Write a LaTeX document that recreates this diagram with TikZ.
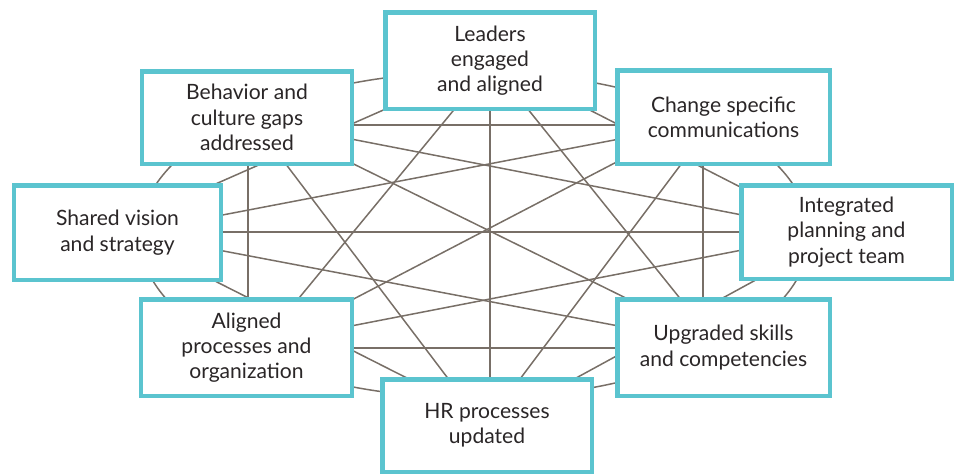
\documentclass[tikz,border=0pt]{standalone}
\usepackage{fontspec}
\setmainfont{Lato}
\usetikzlibrary{calc}
\definecolor{boxteal}{HTML}{5BC4CF}
\definecolor{netgray}{HTML}{786F67}
\definecolor{txtgray}{HTML}{2A2627}
\begin{document}
\begin{tikzpicture}[x=0.2mm,y=-0.2mm,
  net/.style={draw=netgray, line width=0.3mm},
  box/.style={draw=boxteal, line width=0.9mm, fill=white, align=center,
    inner sep=0pt, text=txtgray, font=\fontsize{12}{14.4}\selectfont,
    execute at begin node={\rule{0pt}{13pt}}}]
\useasboundingbox (0,0) rectangle (959,475);
% hidden vertex points of the network
\coordinate (vS) at (118,232);
\coordinate (vB) at (248,125);
\coordinate (vL) at (490,62);
\coordinate (vC) at (703,125);
\coordinate (vI) at (840,232);
\coordinate (vU) at (703,348);
\coordinate (vH) at (490,420);
\coordinate (vA) at (248,348);
% ellipse
\draw[net] (474.5,235) ellipse [x radius=67mm, y radius=32.6mm];
% connectors
\draw[net] (vB) -- (vA);
\draw[net] (vC) -- (vU);
\draw[net] (vL) -- (vH);
\draw[net] (vB) -- (vC);
\draw[net] (vS) -- (vI);
\draw[net] (vA) -- (vU);
\draw[net] ($(vS)+(0,-5)$) -- ($(vL)+(0,1)$);
\draw[net] ($(vS)+(0,3)$) -- ($(vC)+(0,-2)$);
\draw[net] ($(vB)+(0,-6)$) -- ($(vI)+(0,2)$);
\draw[net] ($(vB)+(0,-13)$) -- ($(vU)+(0,-12)$);
\draw[net] ($(vB)+(0,-11)$) -- ($(vH)+(0,14)$);
\draw[net] ($(vL)+(0,4)$) -- ($(vA)+(0,12)$);
\draw[net] ($(vS)+(0,-1)$) -- ($(vU)+(0,-6)$);
\draw[net] (vS) -- (vH);
\draw[net] ($(vA)+(0,6)$) -- ($(vC)+(0,-8)$);
\draw[net] ($(vA)+(0,-2)$) -- ($(vI)+(0,-1)$);
\draw[net] ($(vL)+(0,-3)$) -- ($(vI)+(0,6)$);
\draw[net] (vL) -- ($(vU)+(0,-21)$);
\draw[net] ($(vC)+(0,10)$) -- ($(vH)+(0,-1)$);
\draw[net] ($(vI)+(0,2)$) -- ($(vH)+(0,5)$);
% boxes
\node[box, minimum width=41.9mm, minimum height=19.3mm] (nL) at (490,60.5) {Leaders\\engaged\\and aligned};
\node[box, minimum width=41.9mm, minimum height=18.5mm] (nB) at (247,117.5) {Behavior and\\culture gaps\\addressed};
\node[box, minimum width=42.5mm, minimum height=18.7mm] (nC) at (723.5,117) {Change specific\\communications};
\node[box, minimum width=41.3mm, minimum height=18.9mm] (nS) at (117.5,232.5) {Shared vision\\and strategy};
\node[box, minimum width=42.1mm, minimum height=18.7mm] (nI) at (846.5,232) {Integrated\\planning and\\project team};
\node[box, minimum width=42.1mm, minimum height=19.3mm] (nA) at (246.5,347.5) {Aligned\\processes and\\organization};
\node[box, minimum width=42.5mm, minimum height=19.3mm] (nU) at (723.5,347.5) {Upgraded skills\\and competencies};
\node[box, minimum width=41.9mm, minimum height=18.5mm] (nH) at (487,425.5) {HR processes\\updated};
\end{tikzpicture}
\end{document}
